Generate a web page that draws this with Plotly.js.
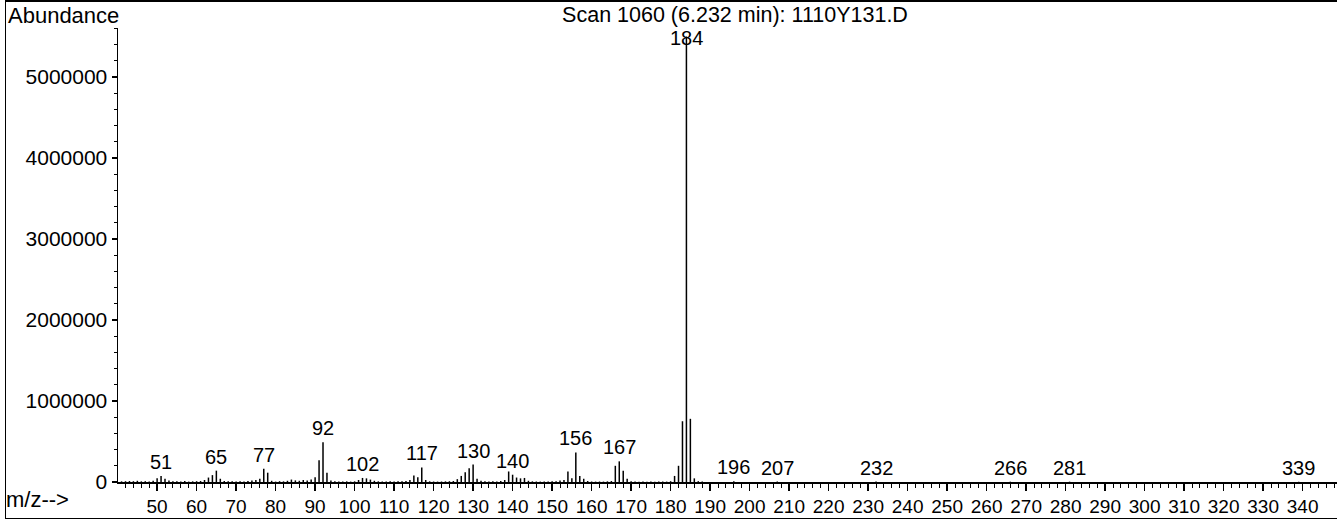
<!DOCTYPE html>
<html>
<head>
<meta charset="utf-8">
<script src="https://cdn.plot.ly/plotly-3.0.1.min.js"></script>
<style>
  html, body { margin: 0; padding: 0; background: #fff; }
  #wrap { position: relative; width: 1337px; height: 519px; }
  #chart { width: 1337px; height: 519px; }
  #frame { position: absolute; left: 5px; top: 0px; width: 1340px; height: 516px;
           border-top: 2px solid #000; border-left: 1px solid #000; border-bottom: 1px solid #000;
           pointer-events: none; }
</style>
</head>
<body>
<div id="wrap">
  <div id="chart"></div>
  <div id="frame"></div>
</div>
<script>
// m/z values and abundances
const mz = [41,42,43,44,45,46,47,48,49,50,51,52,53,54,55,56,57,58,59,60,
            61,62,63,64,65,66,67,68,69,70,71,72,73,74,75,76,77,78,79,80,
            81,82,83,84,85,86,87,88,89,90,91,92,93,94,95,96,97,98,99,100,
            101,102,103,104,105,106,107,108,109,110,111,112,113,114,115,116,117,118,119,120,
            121,122,123,124,125,126,127,128,129,130,131,132,133,134,135,136,137,138,139,140,
            141,142,143,144,145,146,147,148,149,150,151,152,153,154,155,156,157,158,159,160,
            161,162,163,164,165,166,167,168,169,170,171,172,173,174,175,176,177,178,179,180,
            181,182,183,184,185,186,187,188,196,207,232,266,281,339];
const abundance = [8000,10000,12000,10000,15000,8000,10000,5000,15000,45000,75000,40000,20000,8000,10000,6000,12000,5000,8000,10000,
            12000,25000,55000,85000,140000,40000,12000,8000,10000,6000,8000,5000,12000,20000,25000,40000,165000,115000,15000,5000,
            10000,8000,15000,30000,20000,15000,25000,20000,30000,60000,270000,490000,115000,20000,8000,5000,6000,8000,5000,8000,
            25000,50000,45000,30000,15000,8000,6000,5000,8000,6000,8000,10000,12000,25000,80000,60000,180000,25000,8000,6000,
            5000,6000,8000,10000,12000,35000,75000,120000,170000,215000,40000,15000,8000,6000,8000,5000,12000,25000,130000,90000,
            55000,45000,50000,15000,8000,6000,5000,6000,5000,8000,10000,20000,25000,130000,45000,365000,75000,40000,12000,6000,
            5000,6000,5000,8000,12000,200000,255000,140000,40000,8000,5000,4000,5000,4000,5000,4000,5000,6000,5000,10000,
            75000,200000,750000,5500000,780000,45000,10000,5000,8000,6000,5000,4000,4000,3000];
const labelMz = [51,65,77,92,102,117,130,140,156,167,196,207,232,266,281,339];
const basePeak = 184;
const titleText = 'Scan 1060 (6.232 min): 1110Y131.D';
const yTickVals = [0,1000000,2000000,3000000,4000000,5000000];
const xTickVals = [50,60,70,80,90,100,110,120,130,140,150,160,170,180,190,200,210,220,230,240,250,260,270,280,290,300,310,320,330,340];

const xs = [], ys = [];
mz.forEach((m, i) => { xs.push(m, m, null); ys.push(0, abundance[i], null); });

const FONT = 'Liberation Sans, Arial, sans-serif';
const L = 118, T = 28, W = 1219, H = 454;
const px = v => (v - L) / W;        // page x -> paper x
const py = v => (T + H - v) / H;    // page y -> paper y

const annotations = labelMz.map(m => ({
  x: m, y: abundance[mz.indexOf(m)], xref: 'x', yref: 'y',
  text: String(m), showarrow: false, xanchor: 'center', yanchor: 'bottom',
  yshift: 1, font: {family: FONT, size: 20, color: '#000'}
}));
annotations.push({
  x: basePeak, y: 1, xref: 'x', yref: 'paper', text: String(basePeak), showarrow: false,
  xanchor: 'center', yanchor: 'top', yshift: 3, font: {family: FONT, size: 20, color: '#000'}
});
annotations.push({
  x: px(6), y: py(15), xref: 'paper', yref: 'paper', text: 'Abundance', showarrow: false,
  xanchor: 'left', yanchor: 'middle', font: {family: FONT, size: 22, color: '#000'}
});
annotations.push({
  x: px(4), y: py(499), xref: 'paper', yref: 'paper', text: 'm/z-->', showarrow: false,
  xanchor: 'left', yanchor: 'middle', font: {family: FONT, size: 22, color: '#000'}
});

const trace = {
  x: xs, y: ys, type: 'scatter', mode: 'lines',
  line: {color: '#000', width: 1.5}, hoverinfo: 'skip', connectgaps: false
};

const layout = {
  width: 1337, height: 519,
  margin: {l: L, r: 0, t: T, b: 519 - T - H, pad: 0},
  paper_bgcolor: '#fff', plot_bgcolor: '#fff',
  showlegend: false,
  title: {text: titleText, x: 735 / 1337, xanchor: 'center', xref: 'container',
          y: 1 - 14 / 519, yanchor: 'middle', yref: 'container',
          font: {family: FONT, size: 21.5, color: '#000'}},
  xaxis: {
    range: [40.1, 348.7], showgrid: false, zeroline: false,
    showline: true, linecolor: '#000', linewidth: 1.5,
    tickmode: 'array', tickvals: xTickVals, ticktext: xTickVals.map(String),
    ticks: 'outside', ticklen: 7, tickwidth: 1.3, tickcolor: '#000',
    minor: {dtick: 2, tick0: 0, ticks: 'outside', ticklen: 4, tickwidth: 1, tickcolor: '#000', showgrid: false},
    tickfont: {family: FONT, size: 19, color: '#000'}
  },
  yaxis: {
    range: [0, 5605000], showgrid: false, zeroline: false,
    showline: true, linecolor: '#000', linewidth: 1.5,
    tickmode: 'array', tickvals: yTickVals, ticktext: yTickVals.map(String),
    ticks: 'outside', ticklen: 5, tickwidth: 1.3, tickcolor: '#000',
    minor: {dtick: 200000, tick0: 0, ticks: 'outside', ticklen: 3, tickwidth: 1, tickcolor: '#000', showgrid: false},
    tickfont: {family: FONT, size: 21, color: '#000'}
  },
  annotations: annotations
};

Plotly.newPlot('chart', [trace], layout, {staticPlot: true, displayModeBar: false});
</script>
</body>
</html>
